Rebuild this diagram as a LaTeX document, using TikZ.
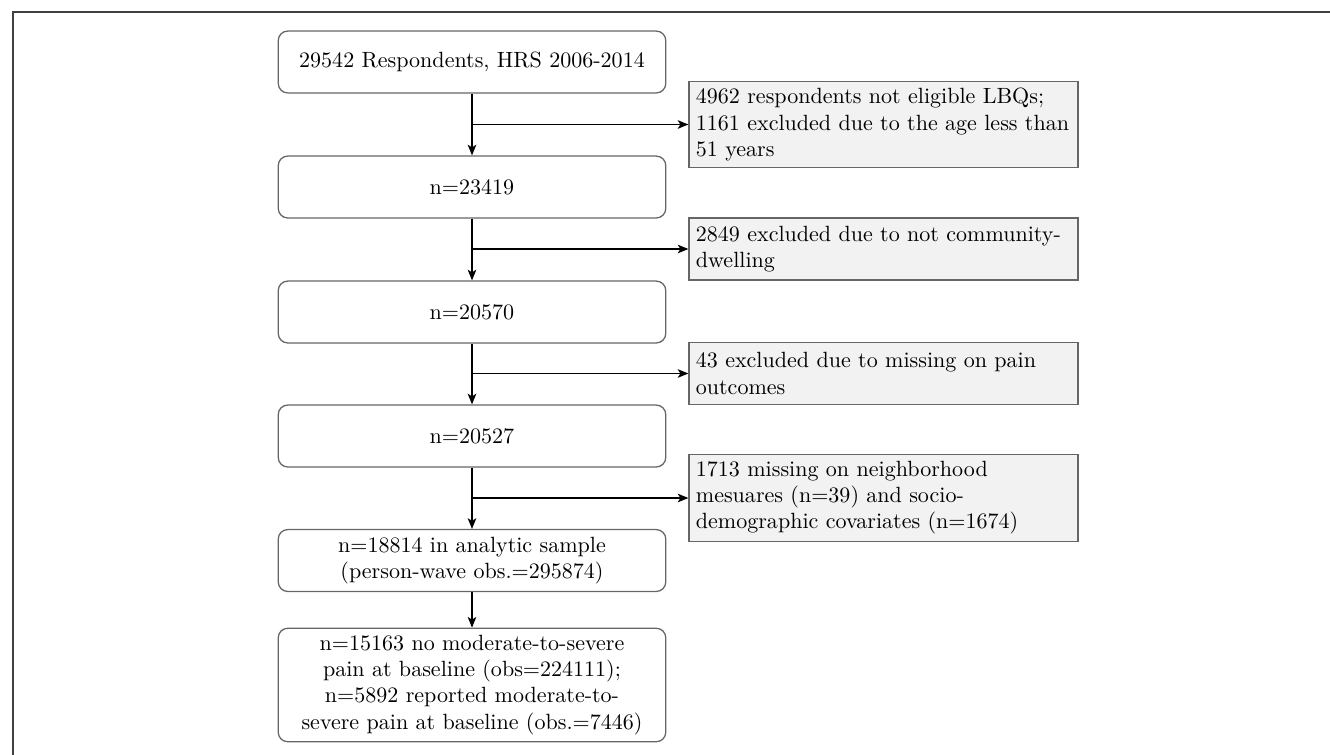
\documentclass[tikz,border=0pt]{standalone}
\usetikzlibrary{arrows.meta}
\begin{document}
\begin{tikzpicture}[x=0.4717pt,y=-0.4717pt,font=\fontsize{10.4pt}{12.3pt}\selectfont,
        mainbox/.style={draw=black!60,line width=0.6pt,rounded corners=4.5pt,text width=176pt,
            minimum height=29.2pt,align=center,inner sep=3.4pt},
        sidebox/.style={draw=black!60,line width=0.65pt,fill=black!5,text width=177pt,
            minimum height=29.2pt,align=left,inner sep=3.2pt},
        arr/.style={-{Stealth[length=5pt,width=4pt,inset=1.2pt]},line width=0.85pt}]
    \useasboundingbox (0,0) rectangle (1330,754);
    \draw[black!75,line width=1pt] (13,770) -- (13,12) -- (1345,12);
    \node[mainbox] (n0) at (472,62) {29542 Respondents, HRS 2006-2014};
    \node[mainbox] (n1) at (472,187) {n=23419};
    \node[mainbox] (n2) at (472,312) {n=20570};
    \node[mainbox] (n3) at (472,436) {n=20527};
    \node[mainbox] (n4) at (472,560.5) {n=18814 in analytic sample\\(person-wave obs.=295874)};
    \node[mainbox] (n5) at (472,685) {n=15163 no moderate-to-severe\\pain at baseline (obs=224111);\\n=5892 reported moderate-to-\\severe pain at baseline (obs.=7446)};
    \node[sidebox] (ex1) at (883.5,124.5) {4962 respondents not eligible LBQs;\\1161 excluded due to the age less than\\51 years};
    \node[sidebox] (ex2) at (883.5,249) {2849 excluded due to not community-\\dwelling};
    \node[sidebox] (ex3) at (883.5,373.5) {43 excluded due to missing on pain\\outcomes};
    \node[sidebox] (ex4) at (883.5,498) {1713 missing on neighborhood\\mesuares (n=39) and socio-\\demographic covariates (n=1674)};
    \draw[arr] (n0) -- (n1);
    \draw[arr] (n1) -- (n2);
    \draw[arr] (n2) -- (n3);
    \draw[arr] (n3) -- (n4);
    \draw[arr] (n4) -- (n5);
    \draw[arr] (n0 |- ex1.west) -- (ex1.west);
    \draw[arr] (n1 |- ex2.west) -- (ex2.west);
    \draw[arr] (n2 |- ex3.west) -- (ex3.west);
    \draw[arr] (n3 |- ex4.west) -- (ex4.west);
\end{tikzpicture}
\end{document}
